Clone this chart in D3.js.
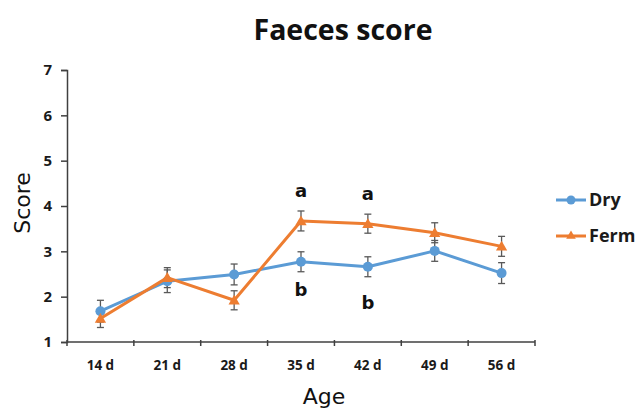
<!DOCTYPE html>
<html>
<head>
<meta charset="utf-8">
<script src="https://cdn.jsdelivr.net/npm/d3@7"></script>
<style>
  body { margin: 0; background: #fff; }
  svg { display: block; }
</style>
</head>
<body>
<div id="chart"></div>
<script>
// data
const ages = ["14 d", "21 d", "28 d", "35 d", "42 d", "49 d", "56 d"];
const dryValues = [1.68, 2.34, 2.49, 2.77, 2.66, 3.01, 2.52];
const dryErrors = [0.24, 0.25, 0.23, 0.22, 0.22, 0.23, 0.23];
const fermValues = [1.52, 2.42, 1.92, 3.67, 3.61, 3.41, 3.11];
const fermErrors = [0.20, 0.22, 0.21, 0.22, 0.21, 0.22, 0.22];
const yTicks = [1, 2, 3, 4, 5, 6, 7];
const letters = [
    {age: "35 d", upper: "a", lower: "b"},
    {age: "42 d", upper: "a", lower: "b"}
];

const WIDTH = 638;
const HEIGHT = 411;
const margin = {top: 70, right: 103, bottom: 69, left: 67};
const width = WIDTH - margin.left - margin.right;
const height = HEIGHT - margin.top - margin.bottom;

const BLUE = "#5B9BD5";
const ORANGE = "#ED7D31";
const AXIS = "#404040";
const ERR = "#595959";

const series = [
    {name: "Dry", color: BLUE, marker: "circle", values: dryValues, errors: dryErrors},
    {name: "Ferm", color: ORANGE, marker: "triangle", values: fermValues, errors: fermErrors}
];

const svg = d3.select("#chart").append("svg")
    .attr("width", WIDTH)
    .attr("height", HEIGHT);

const g = svg.append("g")
    .attr("transform", "translate(" + margin.left + "," + margin.top + ")");

const x = d3.scaleBand()
    .domain(ages)
    .range([0, width]);

const y = d3.scaleLinear()
    .domain([1, 7])
    .range([height, 0]);

const cx = d => x(d) + x.bandwidth() / 2;

// y axis
const yAxis = g.append("g")
    .call(d3.axisLeft(y).tickValues(yTicks).tickSize(6).tickPadding(9).tickFormat(d3.format("d")));
yAxis.select(".domain").attr("stroke", AXIS).attr("stroke-width", 1.5);
yAxis.selectAll(".tick line").attr("stroke", AXIS).attr("stroke-width", 1.5);
yAxis.selectAll(".tick text")
    .attr("fill", "#1a1a1a")
    .style("font", "bold 15px 'Open Sans', sans-serif");

// x axis, boundary ticks crossing the line
const xAxisG = g.append("g")
    .attr("transform", "translate(0," + height + ")");
xAxisG.append("line")
    .attr("x1", 0).attr("x2", width)
    .attr("stroke", AXIS).attr("stroke-width", 1.5);
xAxisG.selectAll(".bound")
    .data(ages.map(d => x(d)).concat([width]))
    .enter().append("line")
    .attr("class", "bound")
    .attr("x1", d => d).attr("x2", d => d)
    .attr("y1", -2).attr("y2", 4)
    .attr("stroke", AXIS).attr("stroke-width", 1.5);
xAxisG.selectAll(".lbl")
    .data(ages)
    .enter().append("text")
    .attr("class", "lbl")
    .attr("x", d => cx(d))
    .attr("y", 28)
    .attr("text-anchor", "middle")
    .attr("fill", "#1a1a1a")
    .style("font", "bold 13.5px 'Open Sans', sans-serif")
    .text(d => d);

// error bars
series.forEach(s => {
    const eb = g.append("g");
    ages.forEach((a, i) => {
        const lo = y(s.values[i] - s.errors[i]);
        const hi = y(s.values[i] + s.errors[i]);
        const xc = cx(a);
        eb.append("line").attr("x1", xc).attr("x2", xc).attr("y1", lo).attr("y2", hi);
        eb.append("line").attr("x1", xc - 3.5).attr("x2", xc + 3.5).attr("y1", lo).attr("y2", lo);
        eb.append("line").attr("x1", xc - 3.5).attr("x2", xc + 3.5).attr("y1", hi).attr("y2", hi);
    });
    eb.selectAll("line").attr("stroke", ERR).attr("stroke-width", 1.3);
});

// lines and markers
const line = d3.line()
    .x((d, i) => cx(ages[i]))
    .y(d => y(d));

const triangle = d3.symbol().type(d3.symbolTriangle).size(55);

series.forEach(s => {
    g.append("path")
        .datum(s.values)
        .attr("fill", "none")
        .attr("stroke", s.color)
        .attr("stroke-width", 3)
        .attr("stroke-linejoin", "round")
        .attr("d", line);

    if (s.marker === "circle") {
        g.selectAll(null)
            .data(s.values)
            .enter().append("circle")
            .attr("cx", (d, i) => cx(ages[i]))
            .attr("cy", d => y(d))
            .attr("r", 5)
            .attr("fill", s.color);
    } else {
        g.selectAll(null)
            .data(s.values)
            .enter().append("path")
            .attr("d", triangle)
            .attr("transform", (d, i) => "translate(" + cx(ages[i]) + "," + (y(d) + 1) + ")")
            .attr("fill", s.color);
    }
});

// significance letters
letters.forEach(l => {
    const i = ages.indexOf(l.age);
    g.append("text")
        .attr("x", cx(l.age))
        .attr("y", y(fermValues[i] + fermErrors[i]) - 14)
        .attr("text-anchor", "middle")
        .attr("fill", "#111")
        .style("font", "bold 18px 'DejaVu Sans', sans-serif")
        .text(l.upper);
    g.append("text")
        .attr("x", cx(l.age))
        .attr("y", y(dryValues[i] - dryErrors[i]) + 24 + (i === 4 ? 8 : 0))
        .attr("text-anchor", "middle")
        .attr("fill", "#111")
        .style("font", "bold 18px 'DejaVu Sans', sans-serif")
        .text(l.lower);
});

// legend
const legend = svg.append("g")
    .attr("transform", "translate(556,200)");
series.forEach((s, i) => {
    const row = legend.append("g").attr("transform", "translate(0," + (i * 36) + ")");
    row.append("line")
        .attr("x1", 0).attr("x2", 30)
        .attr("stroke", s.color).attr("stroke-width", 3);
    if (s.marker === "circle") {
        row.append("circle").attr("cx", 15).attr("r", 4.5).attr("fill", s.color);
    } else {
        row.append("path").attr("d", d3.symbol().type(d3.symbolTriangle).size(40))
            .attr("transform", "translate(15,0)").attr("fill", s.color);
    }
    row.append("text")
        .attr("x", 33)
        .attr("dy", "0.35em")
        .attr("fill", "#1a1a1a")
        .style("font", "bold 18px 'Open Sans', sans-serif")
        .text(s.name);
});

// title and axis titles
svg.append("text")
    .attr("x", 343)
    .attr("y", 40)
    .attr("text-anchor", "middle")
    .attr("fill", "#111")
    .style("font", "bold 28.5px 'Open Sans', sans-serif")
    .text("Faeces score");

svg.append("text")
    .attr("transform", "translate(30,203) rotate(-90)")
    .attr("text-anchor", "middle")
    .attr("fill", "#111")
    .style("font", "22px 'DejaVu Sans', sans-serif")
    .text("Score");

svg.append("text")
    .attr("x", 324)
    .attr("y", 404)
    .attr("text-anchor", "middle")
    .attr("fill", "#111")
    .style("font", "22px 'DejaVu Sans', sans-serif")
    .text("Age");
</script>
</body>
</html>
